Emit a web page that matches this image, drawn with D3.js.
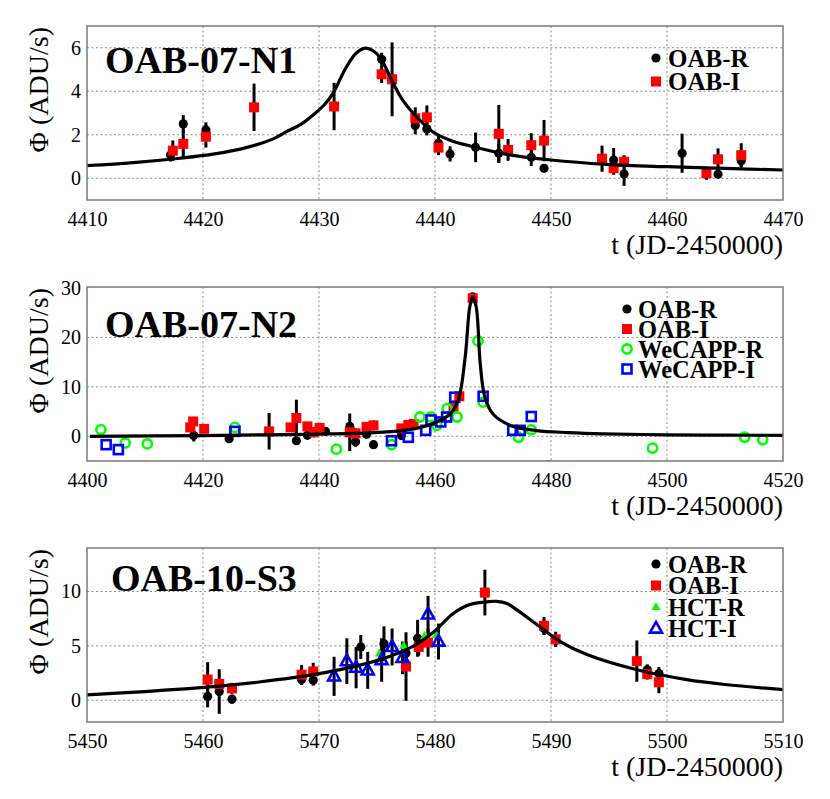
<!DOCTYPE html>
<html><head><meta charset="utf-8">
<script src="https://cdn.jsdelivr.net/npm/d3@7"></script>
<style>body{margin:0;background:#fff}svg{display:block}
svg text{font-family:"Liberation Serif","Times New Roman",Times,"DejaVu Serif",serif;}</style>
</head><body>
<script>
// ---------- DATA ----------
// each point: [t (JD-2450000), flux (ADU/s), error]
const N1_TICKS_X = [4410,4420,4430,4440,4450,4460,4470];
const N1_TICKS_Y = [0,2,4,6];
const N1_OAB_R = [[4417.2,1.07,0.3],[4418.3,2.5,0.4],[4420.25,2.22,0.35],[4435.4,5.47,0.3],[4438.3,2.42,0.4],[4439.3,2.27,0.3],[4440.3,1.61,0.35],[4441.3,1.12,0.35],[4443.5,1.42,0.68],[4445.5,1.15,0.45],[4448.3,0.96,0.4],[4449.4,0.46,0.2],[4455.4,0.84,0.55],[4456.3,0.2,0.55],[4461.3,1.15,0.9],[4464.4,0.18,0.15],[4466.4,0.8,0.3]];
const N1_OAB_I = [[4417.4,1.27,0.47],[4418.3,1.58,0.65],[4420.25,1.91,0.5],[4424.4,3.26,1.09],[4431.3,3.3,1.09],[4435.4,4.78,0.4],[4436.3,4.55,1.7],[4438.3,2.76,0.5],[4439.3,2.8,0.55],[4440.3,1.41,0.35],[4445.5,2.04,1.33],[4446.3,1.3,0.5],[4448.3,1.52,0.55],[4449.4,1.73,0.95],[4454.4,0.9,0.6],[4455.4,0.46,0.3],[4456.3,0.76,0.3],[4463.4,0.23,0.3],[4464.4,0.87,0.5],[4466.4,1.06,0.55]];
const N1_MODEL = [[4410,0.58],[4414,0.72],[4418,0.92],[4421,1.12],[4423.8,1.42],[4426,1.8],[4427.2,2.14],[4428.5,2.5],[4429.5,2.91],[4430.5,3.4],[4431.2,3.9],[4432.3,5.06],[4433.2,5.75],[4434.0,5.98],[4434.7,5.85],[4435.3,5.52],[4436.4,4.37],[4437.2,3.6],[4438.1,3.0],[4439.8,2.14],[4441.3,1.75],[4443.3,1.45],[4446.2,1.1],[4450,0.84],[4454.8,0.64],[4460,0.53],[4465,0.45],[4470,0.38]];

const N2_TICKS_X = [4400,4420,4440,4460,4480,4500,4520];
const N2_TICKS_Y = [0,10,20,30];
const N2_OAB_R = [[4418.4,0.15,1.2],[4424.5,-0.5,0.5],[4436.1,-0.9,0.5],[4438.0,0.2,0.5],[4441.1,1.0,0.5],[4445.3,2.0,0.8],[4446.3,-1.1,1.0],[4448.2,0.4,0.5],[4449.4,-1.7,0.5],[4454.2,0.15,0.5],[4466.5,28.2,0.5],[4479.5,-6.2,1.3]];
const N2_OAB_I = [[4417.8,1.8,0.6],[4418.3,3.0,0.8],[4420.2,1.5,0.8],[4431.4,1.0,3.7],[4435.1,1.8,0.8],[4436.1,3.7,3.7],[4438.0,2.0,0.8],[4439.1,0.8,1.0],[4440.1,1.7,0.8],[4445.3,0.8,3.8],[4446.3,0.6,1.0],[4448.2,1.9,0.8],[4449.4,2.2,1.0],[4454.2,1.6,0.6],[4455.4,2.3,0.6],[4456.3,2.5,0.6],[4463.2,5.9,0.8],[4464.2,8.1,0.8],[4466.5,27.9,0.6]];
const N2_WECAPP_R = [[4402.4,1.36,0],[4406.6,-1.35,0],[4410.4,-1.55,0],[4425.5,1.8,0],[4443.0,-2.6,0],[4452.5,-1.7,0],[4457.4,3.9,0],[4459.3,3.9,0],[4460.3,2.2,0],[4462.1,5.6,0],[4463.8,3.9,0],[4467.4,19.3,0],[4468.3,6.9,0],[4474.4,-0.2,0],[4476.6,1.3,0],[4497.5,-2.4,0],[4513.4,-0.2,0],[4516.5,-0.7,0]];
const N2_WECAPP_I = [[4403.3,-1.7,0],[4405.4,-2.7,0],[4425.5,1.0,0],[4452.5,-0.9,0],[4455.4,-0.2,0],[4458.4,1.2,0],[4459.3,3.3,0],[4461.0,2.9,0],[4462.0,3.9,0],[4463.4,7.9,0],[4468.3,8.1,0],[4473.4,1.2,0],[4474.7,1.2,0],[4476.6,4.0,0]];
const N2_MODEL = [[4400.5,0.0],[4420,0.15],[4431.3,0.3],[4440,0.45],[4448.5,0.7],[4454,1.1],[4456.3,1.5],[4459,2.3],[4461,3.3],[4462.6,4.5],[4464.0,7.3],[4465.2,16],[4466.0,26.2],[4466.5,28.2],[4467.1,26.2],[4467.8,14.7],[4468.6,7.9],[4470.0,4.5],[4473.0,2.2],[4477.5,1.15],[4483,0.75],[4489,0.5],[4500,0.3],[4510,0.22],[4520,0.2]];

const S3_TICKS_X = [5450,5460,5470,5480,5490,5500,5510];
const S3_TICKS_Y = [0,5,10];
const S3_OAB_R = [[5460.4,0.35,1.0],[5461.4,0.8,2.05],[5462.5,0.1,0.4],[5468.5,1.9,0.5],[5469.5,1.85,0.5],[5473.6,4.9,1.1],[5475.6,5.2,1.6],[5477.5,4.35,1.0],[5478.5,5.7,1.7],[5489.4,6.6,0.6],[5490.4,5.5,0.5],[5498.3,2.8,0.5],[5499.3,2.45,0.6]];
const S3_OAB_I = [[5460.4,1.9,1.6],[5461.4,1.5,0.5],[5462.5,1.1,0.5],[5468.5,2.35,0.9],[5469.5,2.65,0.8],[5477.5,3.1,3.15],[5478.6,4.9,0.8],[5479.4,5.3,1.3],[5484.3,9.9,2.1],[5489.4,6.85,0.8],[5490.4,5.6,0.7],[5497.4,3.6,1.9],[5498.3,2.4,0.5],[5499.3,1.65,1.0]];
const S3_HCT_R = [[5475.2,4.3,0],[5477.3,5.0,0],[5479.1,5.9,0],[5480.1,6.0,0]];
const S3_HCT_I = [[5471.3,2.2,1.8],[5472.4,3.6,2.1],[5473.2,3.0,1.9],[5474.2,2.75,1.7],[5475.4,3.7,2.0],[5476.3,4.9,1.7],[5477.2,3.9,1.5],[5479.4,7.9,1.7],[5480.3,5.4,1.65]];
const S3_MODEL = [[5450,0.5],[5455,0.8],[5460.3,1.2],[5465,1.7],[5469.5,2.35],[5473.8,3.3],[5476,4.0],[5478.1,4.95],[5479.8,6.2],[5481.6,8.0],[5483.0,8.8],[5484.5,9.05],[5485.3,9.1],[5486.2,8.9],[5487.0,8.35],[5488.8,6.95],[5490.8,5.4],[5493.1,4.2],[5497.4,2.8],[5501.7,1.9],[5505,1.45],[5510,0.97]];

const LABELS = ["OAB-07-N1","OAB-07-N2","OAB-10-S3"];
const X_TITLE = "t (JD-2450000)";
const Y_TITLE = "\u03A6 (ADU/s)";

// ---------- STYLE ----------
const STYLE = {
  "OAB-R":    {shape:"circle", fill:"#000", stroke:"none", size:4.6},
  "OAB-I":    {shape:"square", fill:"#ff0000", stroke:"none", size:10},
  "WeCAPP-R": {shape:"circle", fill:"none", stroke:"#00ff00", size:4.6},
  "WeCAPP-I": {shape:"square", fill:"none", stroke:"#0000ff", size:9},
  "HCT-R":    {shape:"triangle", fill:"#00ff00", stroke:"none", size:9},
  "HCT-I":    {shape:"triangle", fill:"none", stroke:"#0000ff", size:12}
};

const W = 830, H = 799;
const svg = d3.select("body").append("svg").attr("width",W).attr("height",H);
const FONT = '"Liberation Serif","Times New Roman",Times,"DejaVu Serif",serif';

const panels = [
  {top:26, xd:[4410,4470], yd:[-1,7], tx:N1_TICKS_X, ty:N1_TICKS_Y, model:N1_MODEL, label:LABELS[0], lx:105, ly:73,
   series:[["OAB-R",N1_OAB_R],["OAB-I",N1_OAB_I]], leg:{x:656, tx:668, y0:58, dy:23.5}},
  {top:287, xd:[4400,4520], yd:[-5,30.2], tx:N2_TICKS_X, ty:N2_TICKS_Y, model:N2_MODEL, label:LABELS[1], lx:105, ly:337,
   series:[["OAB-R",N2_OAB_R],["OAB-I",N2_OAB_I],["WeCAPP-R",N2_WECAPP_R],["WeCAPP-I",N2_WECAPP_I]], leg:{x:627, tx:638, y0:309, dy:20}},
  {top:548, xd:[5450,5510], yd:[-2,14], tx:S3_TICKS_X, ty:S3_TICKS_Y, model:S3_MODEL, label:LABELS[2], lx:111, ly:591,
   series:[["OAB-R",S3_OAB_R],["OAB-I",S3_OAB_I],["HCT-R",S3_HCT_R],["HCT-I",S3_HCT_I]], leg:{x:656, tx:668, y0:564, dy:21.5}}
];
const LEFT = 87, RIGHT = 783, PH = 174;

function marker(g, type, x, y){
  const s = STYLE[type];
  const sw = s.stroke === "none" ? 0 : 2.6;
  let el;
  if (s.shape === "circle") {
    el = g.append("circle").attr("cx",x).attr("cy",y).attr("r",s.size);
  } else if (s.shape === "square") {
    el = g.append("rect").attr("x",x-s.size/2).attr("y",y-s.size/2).attr("width",s.size).attr("height",s.size);
  } else {
    const h = s.size*0.9, w = s.size/2;
    el = g.append("path").attr("d",`M${x},${y-h*0.62}L${x+w},${y+h*0.38}L${x-w},${y+h*0.38}Z`);
  }
  el.attr("fill",s.fill).attr("stroke",s.stroke).attr("stroke-width",sw);
}

panels.forEach((p,i)=>{
  const x = d3.scaleLinear().domain(p.xd).range([LEFT,RIGHT]);
  const y = d3.scaleLinear().domain(p.yd).range([p.top+PH,p.top]);
  const g = svg.append("g");
  const cid = "clip"+i;
  svg.append("clipPath").attr("id",cid).append("rect").attr("x",LEFT).attr("y",p.top).attr("width",RIGHT-LEFT).attr("height",PH);

  // grid
  const grid = g.append("g").attr("stroke","#8a8a8a").attr("stroke-width",1).attr("stroke-dasharray","2,2.5");
  p.tx.slice(1,-1).forEach(t=>grid.append("line").attr("x1",x(t)).attr("x2",x(t)).attr("y1",p.top).attr("y2",p.top+PH));
  p.ty.forEach(v=>{ if (y(v) > p.top+1) grid.append("line").attr("x1",LEFT).attr("x2",RIGHT).attr("y1",y(v)).attr("y2",y(v)); });

  // axes labels via d3 axes (no lines)
  const ax = g.append("g").attr("transform",`translate(0,${p.top+PH})`)
    .call(d3.axisBottom(x).tickValues(p.tx).tickSize(0).tickPadding(7).tickFormat(d3.format("d")));
  ax.attr("font-family",null);
  ax.select(".domain").remove();
  ax.selectAll("text").style("font-family",FONT).attr("font-size",20).attr("fill","#000").attr("dy","0.95em");
  const ay = g.append("g").attr("transform",`translate(${LEFT},0)`)
    .call(d3.axisLeft(y).tickValues(p.ty).tickSize(0).tickPadding(6).tickFormat(d3.format("d")));
  ay.attr("font-family",null);
  ay.select(".domain").remove();
  ay.selectAll("text").style("font-family",FONT).attr("font-size",20).attr("fill","#000");

  // titles
  g.append("text").attr("x",RIGHT).attr("y",p.top+PH+54).attr("text-anchor","end")
    .style("font-family",FONT).attr("font-size",28).text(X_TITLE);
  g.append("text").attr("transform",`translate(48,${p.top+1}) rotate(-90)`).attr("text-anchor","end")
    .style("font-family",FONT).attr("font-size",28).text(Y_TITLE);

  // data
  const dg = g.append("g").attr("clip-path",`url(#${cid})`);
  p.series.forEach(([name,data])=>{
    data.forEach(d=>{
      if (d[2] > 0) dg.append("line").attr("x1",x(d[0])).attr("x2",x(d[0]))
        .attr("y1",y(d[1]-d[2])).attr("y2",y(d[1]+d[2])).attr("stroke","#000").attr("stroke-width",3);
    });
  });
  p.series.forEach(([name,data])=>{
    data.forEach(d=>marker(dg,name,x(d[0]),y(d[1])));
  });
  dg.append("path").datum(p.model)
    .attr("d",d3.line().x(d=>x(d[0])).y(d=>y(d[1])).curve(d3.curveCatmullRom.alpha(0.5)))
    .attr("fill","none").attr("stroke","#000").attr("stroke-width",3.2);

  // frame
  g.append("rect").attr("x",LEFT).attr("y",p.top).attr("width",RIGHT-LEFT).attr("height",PH)
    .attr("fill","none").attr("stroke","#7a7a7a").attr("stroke-width",1.5);

  // panel label
  g.append("text").attr("x",p.lx).attr("y",p.ly).style("font-family",FONT).attr("font-weight","bold")
    .attr("font-size",38).text(p.label);

  // legend
  p.series.forEach(([name],k)=>{
    const ly = p.leg.y0 + k*p.leg.dy;
    const lg = g.append("g");
    marker(lg,name,p.leg.x,ly);
    lg.append("text").attr("x",p.leg.tx).attr("y",ly).attr("dy","0.35em").style("font-family",FONT)
      .attr("font-weight","bold").attr("font-size",p.series.length>2?24.5:25).text(name);
  });
});
</script>
</body></html>
